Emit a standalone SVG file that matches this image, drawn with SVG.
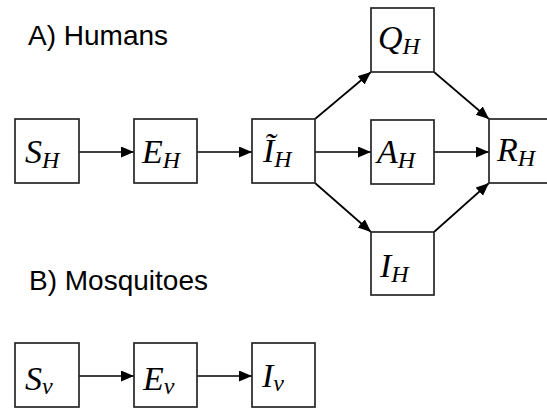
<svg xmlns="http://www.w3.org/2000/svg" width="547" height="408" viewBox="0 0 547 408">
  <style>
    .box { fill: #ffffff; stroke: #262626; stroke-width: 1.7; }
    .lbl { font-family: "Liberation Serif", "DejaVu Serif", serif; font-style: italic; font-size: 34px; fill: #000; }
    .sub { font-size: 24px; }
    .title { font-family: "Liberation Sans", Arial, sans-serif; font-size: 28px; fill: #000; }
    .edge { stroke: #000; stroke-width: 1.7; fill: none; marker-end: url(#arrow); }
  </style>
  <defs>
    <marker id="arrow" markerUnits="userSpaceOnUse" markerWidth="14" markerHeight="12" refX="13" refY="5.5" orient="auto">
      <path d="M0,0 L13,5.5 L0,11 Z" fill="#000"/>
    </marker>
  </defs>
  <rect width="547" height="408" fill="#ffffff"/>

  <!-- section titles -->
  <text class="title" x="28" y="45">A) Humans</text>
  <text class="title" x="29" y="290">B) Mosquitoes</text>

  <!-- connectors -->
  <g id="connectors">
    <line class="edge" x1="79" y1="152" x2="134" y2="152"/>
    <line class="edge" x1="197" y1="152" x2="252" y2="152"/>
    <line class="edge" x1="315" y1="152" x2="371" y2="152"/>
    <line class="edge" x1="434" y1="152" x2="489" y2="152"/>
    <line class="edge" x1="315" y1="119" x2="371" y2="72"/>
    <line class="edge" x1="315" y1="183" x2="371" y2="232"/>
    <line class="edge" x1="434" y1="72" x2="489" y2="119"/>
    <line class="edge" x1="434" y1="232" x2="489" y2="183"/>
    <line class="edge" x1="79" y1="376" x2="134" y2="376"/>
    <line class="edge" x1="197" y1="376" x2="252" y2="376"/>
  </g>

  <!-- human compartments -->
  <g id="SH">
    <rect class="box" x="15" y="119" width="64" height="64"/>
    <text class="lbl" x="25" y="163">S<tspan class="sub" dy="5">H</tspan></text>
  </g>
  <g id="EH">
    <rect class="box" x="134" y="119" width="63" height="64"/>
    <text class="lbl" x="142" y="163">E<tspan class="sub" dy="5">H</tspan></text>
  </g>
  <g id="ItH">
    <rect class="box" x="252" y="119" width="63" height="64"/>
    <text class="lbl" x="263" y="162">Ĩ<tspan class="sub" dy="5">H</tspan></text>
  </g>
  <g id="QH">
    <rect class="box" x="371" y="8" width="63" height="64"/>
    <text class="lbl" x="378" y="49">Q<tspan class="sub" dy="5">H</tspan></text>
  </g>
  <g id="AH">
    <rect class="box" x="371" y="120" width="63" height="64"/>
    <text class="lbl" x="377" y="163">A<tspan class="sub" dy="5">H</tspan></text>
  </g>
  <g id="IH">
    <rect class="box" x="371" y="232" width="63" height="63"/>
    <text class="lbl" x="380" y="277">I<tspan class="sub" dy="5">H</tspan></text>
  </g>
  <g id="RH">
    <rect class="box" x="489" y="119" width="64" height="64"/>
    <text class="lbl" x="497" y="161">R<tspan class="sub" dy="5">H</tspan></text>
  </g>

  <!-- mosquito compartments -->
  <g id="Sv">
    <rect class="box" x="15" y="343" width="64" height="64"/>
    <text class="lbl" x="25" y="390">S<tspan class="sub" dy="4">v</tspan></text>
  </g>
  <g id="Ev">
    <rect class="box" x="134" y="343" width="63" height="64"/>
    <text class="lbl" x="143" y="390">E<tspan class="sub" dy="4">v</tspan></text>
  </g>
  <g id="Iv">
    <rect class="box" x="252" y="343" width="63" height="64"/>
    <text class="lbl" x="262" y="387">I<tspan class="sub" dy="4">v</tspan></text>
  </g>
</svg>
